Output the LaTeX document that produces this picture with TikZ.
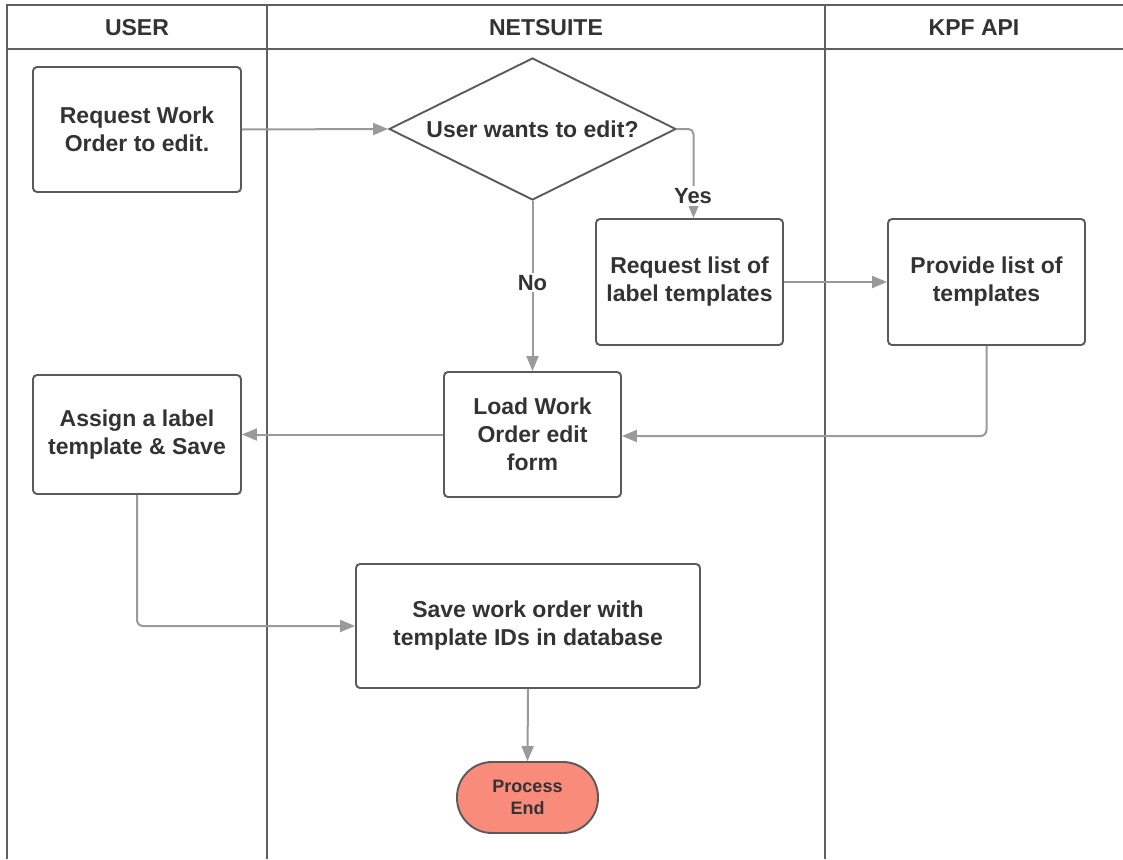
\documentclass[tikz,border=0pt]{standalone}
\usepackage{fontspec}
\setmainfont{Liberation Sans}
\usetikzlibrary{shapes.geometric,arrows.meta}
\definecolor{boxline}{HTML}{5A5A5A}
\definecolor{conline}{HTML}{9A9A9A}
\definecolor{txt}{HTML}{333333}
\definecolor{laneline}{HTML}{606060}
\definecolor{endfill}{HTML}{F98B7B}
\tikzset{
  proc/.style={draw=boxline, line width=1.9pt, rounded corners=4pt, fill=white,
    align=center, text=txt, font=\fontsize{23}{28}\selectfont\bfseries},
  decis/.style={draw=boxline, line width=1.9pt, diamond, aspect=2, inner sep=0pt,
    minimum width=287pt, minimum height=142pt, align=center, text=txt,
    font=\fontsize{23}{28}\selectfont\bfseries},
  term/.style={draw=boxline, line width=1.9pt, fill=endfill, rounded corners=35pt,
    minimum width=141pt, minimum height=71pt, align=center, text=txt,
    font=\fontsize{18}{22}\selectfont\bfseries},
  conn/.style={draw=conline, line width=2pt, -{Triangle[length=15pt,width=12pt]}},
  lane/.style={draw=laneline, line width=1.9pt},
  head/.style={text=txt, font=\fontsize{23}{28}\selectfont\bfseries},
  elabel/.style={fill=white, text=txt, inner sep=2pt, font=\fontsize{22}{27}\selectfont\bfseries}
}
\begin{document}
\begin{tikzpicture}[x=1pt,y=-1pt]
\useasboundingbox (0,0) rectangle (1123,859);
% lanes
\coordinate (tl) at (7,5);
\coordinate (tr) at (1123,5);
\coordinate (bl) at (7,859);
\coordinate (hl) at (7,49);
\coordinate (hr) at (1123,49);
\coordinate (d1t) at (267,5);
\coordinate (d1b) at (267,859);
\coordinate (d2t) at (825,5);
\coordinate (d2b) at (825,859);
\draw[lane] (tr) -- (tl) -- (bl);
\draw[lane] (hl) -- (hr);
\draw[lane] (d1t) -- (d1b);
\draw[lane] (d2t) -- (d2b);
\node[head] (hu) at (137,28) {USER};
\node[head] (hn) at (546,28) {NETSUITE};
\node[head] (hk) at (974,28) {KPF API};
% nodes
\node[proc, minimum width=208pt, minimum height=125pt] (req) at (137,129.5) {Request Work\\Order to edit.};
\node[decis] (dia) at (532.5,129) {User wants to edit?};
\node[proc, minimum width=187pt, minimum height=126pt] (rql) at (689.5,282) {Request list of\\label templates};
\node[proc, minimum width=197pt, minimum height=126pt] (prv) at (986.5,282) {Provide list of\\templates};
\node[proc, minimum width=177pt, minimum height=125pt] (load) at (532.5,434.5) {Load Work\\Order edit\\form};
\node[proc, minimum width=208pt, minimum height=119pt] (asg) at (137,434.5) {Assign a label\\template \& Save};
\node[proc, minimum width=344pt, minimum height=124pt] (save) at (528,626) {Save work order with\\template IDs in database};
\node[term] (end) at (527.5,797.5) {Process\\End};
% connectors
\draw[conn] (req.east) -- (dia.west);
\draw[conn, rounded corners=5pt] (dia.east) -| ([xshift=4pt]rql.north);
\node[elabel] (yes) at (693,196) {Yes};
\draw[conn] (rql.east) -- (prv.west);
\draw[conn] (dia.south) -- node[elabel, pos=0.48] (no) {No} (load.north);
\draw[conn, rounded corners=6pt] (prv.south) |- ([yshift=-1.5pt]load.east);
\draw[conn] (load.west) -- (asg.east);
\draw[conn, rounded corners=6pt] (asg.south) |- (save.west);
\draw[conn] (save.south) -- (end.north);
\end{tikzpicture}
\end{document}
